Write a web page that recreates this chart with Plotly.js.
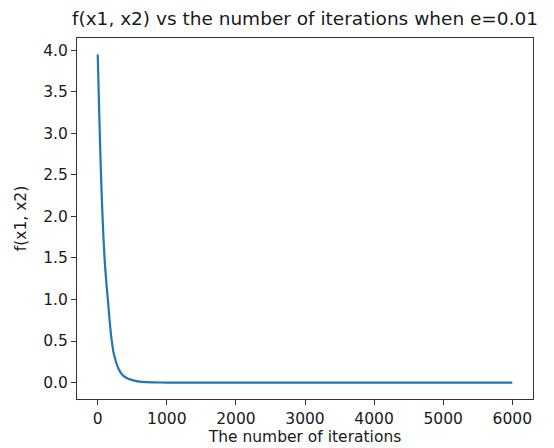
<!DOCTYPE html>
<html>
<head>
<meta charset="utf-8">
<script src="https://cdn.plot.ly/plotly-3.0.1.min.js"></script>
<style>html,body{margin:0;padding:0;background:#fff;}#chart{width:554px;height:448px;}</style>
</head>
<body>
<div id="chart"></div>
<script>
const iterations = [0, 20, 40, 60, 80, 100, 125, 150, 175, 200, 225, 250, 300, 350, 400, 500, 600, 700, 800, 1000, 2000, 3000, 4000, 5000, 6000];
const fValues = [3.95, 3.3, 2.7, 2.2, 1.8, 1.48, 1.2, 0.97, 0.72, 0.52, 0.38, 0.29, 0.17, 0.10, 0.065, 0.03, 0.012, 0.005, 0.002, 0.0005, 0, 0, 0, 0, 0];
const xTicks = [0, 1000, 2000, 3000, 4000, 5000, 6000];
const yTicks = [0.0, 0.5, 1.0, 1.5, 2.0, 2.5, 3.0, 3.5, 4.0];

const font = "DejaVu Sans, sans-serif";
const txt = '#1a1a1a';
const trace = {
  x: iterations, y: fValues, type: 'scatter', mode: 'lines',
  line: {color: '#1f77b4', width: 2.2, shape: 'spline', smoothing: 0.6},
  hoverinfo: 'skip'
};
const yMax = Math.max(...fValues), yMin = Math.min(...fValues);
const yPad = 0.05 * (yMax - yMin);
const layout = {
  width: 554, height: 448,
  margin: {l: 77, r: 21, t: 38, b: 49},
  paper_bgcolor: '#fff', plot_bgcolor: '#fff',
  showlegend: false,
  title: {text: 'f(x1, x2) vs the number of iterations when e=0.01', font: {family: font, size: 18.5, color: txt}, x: 305/554, xanchor: 'center', y: 1 - 19/448, yanchor: 'middle'},
  xaxis: {
    range: [-300, 6300], tickvals: xTicks, ticktext: xTicks.map(String),
    showgrid: false, zeroline: false, showline: true, mirror: true, linecolor: '#333', linewidth: 1,
    ticks: 'outside', ticklen: 5, tickcolor: '#333', tickfont: {family: font, size: 15.5, color: txt},
    title: {text: 'The number of iterations', font: {family: font, size: 15.5, color: txt}, standoff: 3}
  },
  yaxis: {
    range: [yMin - yPad, yMax + yPad], tickvals: yTicks, ticktext: yTicks.map(v => v.toFixed(1)),
    showgrid: false, zeroline: false, showline: true, mirror: true, linecolor: '#333', linewidth: 1,
    ticks: 'outside', ticklen: 5, tickcolor: '#333', tickfont: {family: font, size: 15.5, color: txt},
    title: {text: 'f(x1, x2)', font: {family: font, size: 15.5, color: txt}, standoff: 12}
  }
};
Plotly.newPlot('chart', [trace], layout, {displayModeBar: false, staticPlot: true});
</script>
</body>
</html>
